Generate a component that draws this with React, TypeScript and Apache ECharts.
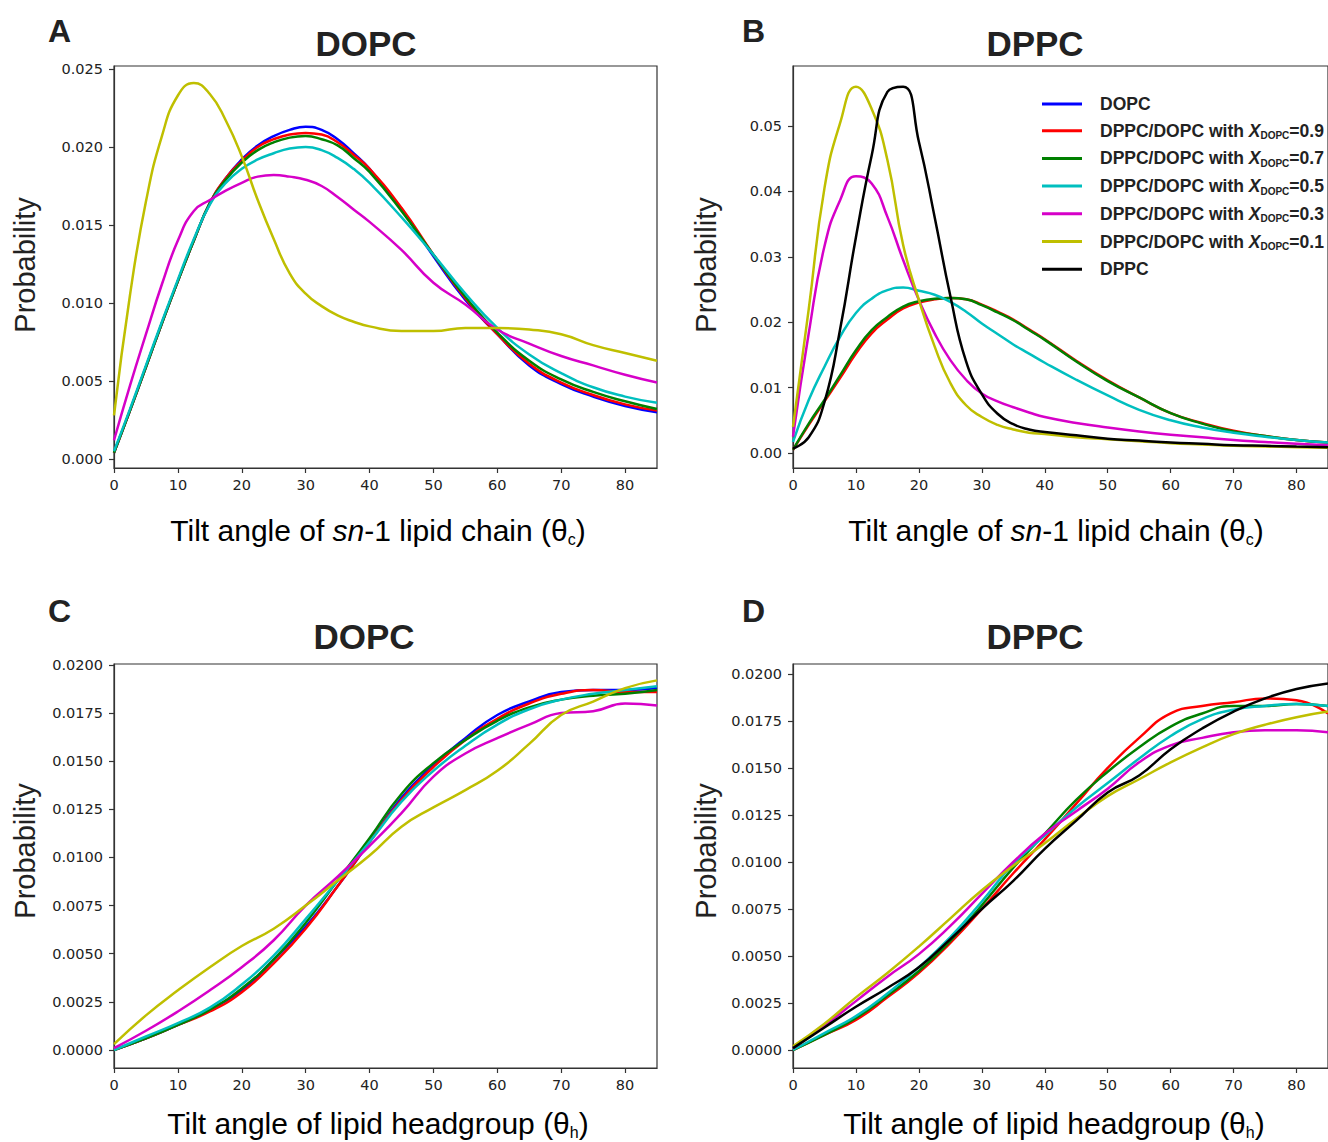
import React, { useEffect, useRef } from "react";
import * as echarts from "echarts";

// ---------- data ----------
const X_CHAIN = [0, 2.5, 5, 7.5, 10, 12.5, 15, 17.5, 20, 22.5, 25, 27.5, 30, 32.5, 35, 37.5, 40, 45, 50, 55, 60, 65, 70, 75, 80, 85];
const X_HEAD = [0, 5, 10, 15, 20, 25, 30, 35, 40, 45, 50, 55, 60, 65, 70, 75, 80, 85];

const SERIES_NAMES = [
  "DOPC",
  "DPPC/DOPC with X_DOPC=0.9",
  "DPPC/DOPC with X_DOPC=0.7",
  "DPPC/DOPC with X_DOPC=0.5",
  "DPPC/DOPC with X_DOPC=0.3",
  "DPPC/DOPC with X_DOPC=0.1",
  "DPPC",
];
const SERIES_COLORS = ["#0000ff", "#ff0000", "#008000", "#00bfbf", "#d600c8", "#bfbf00", "#000000"];

// Panel A: DOPC, sn-1 chain tilt
const A_DOPC = [0.0004, 0.0031, 0.0059, 0.0087, 0.0114, 0.0140, 0.0164, 0.0180, 0.0192, 0.0201, 0.0207, 0.0211, 0.0213, 0.0211, 0.0205, 0.0196, 0.0186, 0.0160, 0.0130, 0.0102, 0.0080, 0.0060, 0.0048, 0.0040, 0.0034, 0.0030];
const A_X09 = [0.0004, 0.0031, 0.0059, 0.0087, 0.0114, 0.0140, 0.0164, 0.0180, 0.0191, 0.0200, 0.0205, 0.0208, 0.0209, 0.0208, 0.0203, 0.0195, 0.0186, 0.0161, 0.0131, 0.0103, 0.0080, 0.0061, 0.0049, 0.0041, 0.0035, 0.0031];
const A_X07 = [0.0004, 0.0031, 0.0059, 0.0087, 0.0114, 0.0140, 0.0164, 0.0179, 0.0190, 0.0198, 0.0203, 0.0206, 0.0207, 0.0205, 0.0201, 0.0193, 0.0184, 0.0159, 0.0131, 0.0104, 0.0081, 0.0063, 0.0051, 0.0043, 0.0037, 0.0032];
const A_X05 = [0.0005, 0.0032, 0.0060, 0.0088, 0.0115, 0.0141, 0.0163, 0.0177, 0.0186, 0.0192, 0.0196, 0.0199, 0.0200, 0.0198, 0.0193, 0.0186, 0.0177, 0.0155, 0.0131, 0.0106, 0.0084, 0.0067, 0.0055, 0.0046, 0.0040, 0.0036];
const A_X03 = [0.0012, 0.0047, 0.0080, 0.0112, 0.0140, 0.0159, 0.0166, 0.0172, 0.0177, 0.0181, 0.0182, 0.0181, 0.0179, 0.0175, 0.0168, 0.0160, 0.0152, 0.0134, 0.0113, 0.0099, 0.0083, 0.0074, 0.0066, 0.0060, 0.0054, 0.0049];
const A_X01 = [0.0028, 0.0105, 0.0165, 0.0207, 0.0233, 0.0241, 0.0234, 0.0217, 0.0194, 0.0166, 0.0141, 0.0119, 0.0106, 0.0098, 0.0092, 0.0088, 0.0085, 0.0082, 0.0082, 0.0084, 0.0084, 0.0083, 0.0080, 0.0073, 0.0068, 0.0063];

// Panel B: DPPC, sn-1 chain tilt
const B_X09 = [0.0005, 0.0043, 0.0079, 0.0115, 0.0152, 0.0183, 0.0204, 0.0221, 0.0230, 0.0235, 0.0237, 0.0235, 0.0227, 0.0216, 0.0204, 0.0189, 0.0174, 0.0141, 0.0111, 0.0085, 0.0061, 0.0046, 0.0034, 0.0026, 0.0020, 0.0016];
const B_X07 = [0.0005, 0.0045, 0.0081, 0.0119, 0.0157, 0.0188, 0.0208, 0.0224, 0.0232, 0.0236, 0.0237, 0.0235, 0.0226, 0.0215, 0.0203, 0.0188, 0.0173, 0.0140, 0.0110, 0.0085, 0.0061, 0.0045, 0.0033, 0.0026, 0.0020, 0.0016];
const B_X05 = [0.0017, 0.0081, 0.0132, 0.0178, 0.0214, 0.0236, 0.0249, 0.0253, 0.0248, 0.0242, 0.0231, 0.0216, 0.0198, 0.0182, 0.0166, 0.0152, 0.0138, 0.0112, 0.0088, 0.0066, 0.0050, 0.0039, 0.0031, 0.0025, 0.0020, 0.0016];
const B_X03 = [0.0025, 0.0183, 0.0316, 0.0387, 0.0423, 0.0412, 0.0361, 0.0295, 0.0234, 0.0183, 0.0142, 0.0112, 0.0091, 0.0079, 0.0070, 0.0062, 0.0055, 0.0046, 0.0039, 0.0033, 0.0028, 0.0024, 0.0020, 0.0017, 0.0014, 0.0012];
const B_X01 = [0.0040, 0.0220, 0.0405, 0.0505, 0.0560, 0.0526, 0.0448, 0.0318, 0.0234, 0.0163, 0.0107, 0.0073, 0.0055, 0.0043, 0.0036, 0.0031, 0.0029, 0.0024, 0.0021, 0.0018, 0.0015, 0.0013, 0.0011, 0.0010, 0.0009, 0.0008];
const B_DPPC = [0.0007, 0.0024, 0.0078, 0.0190, 0.0330, 0.0455, 0.0552, 0.0560, 0.0476, 0.0361, 0.0240, 0.0140, 0.0090, 0.0060, 0.0044, 0.0036, 0.0032, 0.0027, 0.0022, 0.0019, 0.0016, 0.0014, 0.0012, 0.0011, 0.0010, 0.0009];

// Panel C: DOPC, headgroup tilt
const C_DOPC = [0.0000, 0.0006, 0.0013, 0.0021, 0.0031, 0.0047, 0.0064, 0.0085, 0.0108, 0.0131, 0.0148, 0.0162, 0.0174, 0.0181, 0.0186, 0.0187, 0.0187, 0.0188];
const C_X09 = [0.0000, 0.0006, 0.0013, 0.0020, 0.0030, 0.0045, 0.0063, 0.0085, 0.0108, 0.0130, 0.0147, 0.0161, 0.0172, 0.0180, 0.0185, 0.0187, 0.0186, 0.0186];
const C_X07 = [0.0000, 0.0006, 0.0013, 0.0021, 0.0032, 0.0047, 0.0066, 0.0088, 0.0110, 0.0133, 0.0149, 0.0161, 0.0171, 0.0178, 0.0182, 0.0184, 0.0185, 0.0187];
const C_X05 = [0.0000, 0.0007, 0.0014, 0.0022, 0.0034, 0.0049, 0.0068, 0.0088, 0.0108, 0.0129, 0.0145, 0.0158, 0.0169, 0.0177, 0.0182, 0.0185, 0.0187, 0.0189];
const C_X03 = [0.0001, 0.0010, 0.0020, 0.0031, 0.0043, 0.0057, 0.0075, 0.0090, 0.0106, 0.0123, 0.0142, 0.0154, 0.0162, 0.0169, 0.0175, 0.0176, 0.0180, 0.0179];
const C_X01 = [0.0003, 0.0018, 0.0031, 0.0043, 0.0054, 0.0063, 0.0075, 0.0088, 0.0101, 0.0116, 0.0126, 0.0135, 0.0145, 0.0159, 0.0174, 0.0181, 0.0188, 0.0192];

// Panel D: DPPC, headgroup tilt
const D_X09 = [0.0000, 0.0008, 0.0016, 0.0028, 0.0041, 0.0057, 0.0075, 0.0094, 0.0112, 0.0131, 0.0150, 0.0166, 0.0179, 0.0183, 0.0185, 0.0187, 0.0186, 0.0179];
const D_X07 = [0.0000, 0.0008, 0.0017, 0.0029, 0.0042, 0.0058, 0.0077, 0.0097, 0.0115, 0.0133, 0.0148, 0.0161, 0.0172, 0.0179, 0.0183, 0.0183, 0.0184, 0.0183];
const D_X05 = [0.0000, 0.0009, 0.0018, 0.0030, 0.0044, 0.0060, 0.0079, 0.0099, 0.0114, 0.0129, 0.0142, 0.0155, 0.0167, 0.0176, 0.0181, 0.0183, 0.0184, 0.0183];
const D_X03 = [0.0001, 0.0013, 0.0026, 0.0039, 0.0051, 0.0066, 0.0083, 0.0100, 0.0115, 0.0127, 0.0139, 0.0153, 0.0162, 0.0166, 0.0169, 0.0170, 0.0170, 0.0169];
const D_X01 = [0.0002, 0.0014, 0.0028, 0.0041, 0.0055, 0.0070, 0.0085, 0.0098, 0.0110, 0.0123, 0.0135, 0.0144, 0.0153, 0.0161, 0.0168, 0.0173, 0.0177, 0.0180];
const D_DPPC = [0.0001, 0.0012, 0.0023, 0.0033, 0.0044, 0.0059, 0.0075, 0.0090, 0.0107, 0.0122, 0.0137, 0.0146, 0.0160, 0.0171, 0.0180, 0.0187, 0.0192, 0.0195];

// tick labels
const X_TICKS = [0, 10, 20, 30, 40, 50, 60, 70, 80];
const A_Y_TICKS = [0, 0.005, 0.01, 0.015, 0.02, 0.025];
const B_Y_TICKS = [0, 0.01, 0.02, 0.03, 0.04, 0.05];
const CD_Y_TICKS = [0, 0.0025, 0.005, 0.0075, 0.01, 0.0125, 0.015, 0.0175, 0.02];

const PANEL_LETTERS = ["A", "B", "C", "D"];
const PANEL_TITLES = ["DOPC", "DPPC", "DOPC", "DPPC"];

// ---------- styling ----------
const SANS = "'Liberation Sans', Arial, sans-serif";
const TICK_FONT = "'DejaVu Sans', sans-serif";
const AXIS_COLOR = "#333";
const TEXT_COLOR = "#222";

const GRIDS = [
  { left: 114, top: 66, width: 543, height: 402 },
  { left: 793, top: 66, width: 545, height: 402 },
  { left: 114, top: 664, width: 543, height: 404 },
  { left: 793, top: 664, width: 545, height: 404 },
];
const Y_RANGES = [
  [-0.000577, 0.025192],
  [-0.00229, 0.05917],
  [-0.000935, 0.02005],
  [-0.000957, 0.02053],
];
const Y_TICKS = [A_Y_TICKS, B_Y_TICKS, CD_Y_TICKS, CD_Y_TICKS];
const Y_DECIMALS = [3, 2, 4, 4];

function zip(xs: number[], ys: number[]) {
  return xs.map((x, i) => [x, ys[i]]);
}

export default function App() {
  const ref = useRef<HTMLDivElement>(null);
  useEffect(() => {
    if (!ref.current) return;
    const chart = echarts.init(ref.current, null, { renderer: "svg" });

    const panels: { x: number[]; data: (number[] | null)[] }[] = [
      { x: X_CHAIN, data: [A_DOPC, A_X09, A_X07, A_X05, A_X03, A_X01, null] },
      { x: X_CHAIN, data: [null, B_X09, B_X07, B_X05, B_X03, B_X01, B_DPPC] },
      { x: X_HEAD, data: [C_DOPC, C_X09, C_X07, C_X05, C_X03, C_X01, null] },
      { x: X_HEAD, data: [null, D_X09, D_X07, D_X05, D_X03, D_X01, D_DPPC] },
    ];

    const series: any[] = [];
    panels.forEach((p, pi) => {
      p.data.forEach((ys, si) => {
        if (!ys) return;
        series.push({
          type: "line",
          name: SERIES_NAMES[si],
          xAxisIndex: pi,
          yAxisIndex: pi,
          data: zip(p.x, ys),
          smooth: 0.5,
          showSymbol: false,
          symbol: "none",
          color: SERIES_COLORS[si],
          lineStyle: { width: 2.5, color: SERIES_COLORS[si] },
          emphasis: { disabled: true },
          z: 2 + si,
        });
      });
    });

    const grid = GRIDS.map((g) => ({
      ...g,
      show: true,
      borderColor: AXIS_COLOR,
      borderWidth: 1.2,
      backgroundColor: "transparent",
      containLabel: false,
    }));

    const xAxis = GRIDS.map((_, i) => ({
      type: "value",
      gridIndex: i,
      min: 0,
      max: 85,
      axisLine: { show: true, onZero: false, lineStyle: { color: AXIS_COLOR, width: 1.2 } },
      axisTick: { show: true, customValues: X_TICKS, length: 5, lineStyle: { color: AXIS_COLOR, width: 1.2 } },
      axisLabel: {
        customValues: X_TICKS,
        color: TEXT_COLOR,
        fontFamily: TICK_FONT,
        fontSize: 14.5,
        margin: 9,
        formatter: (v: number) => String(Math.round(v)),
      },
      splitLine: { show: false },
    }));

    const yAxis = GRIDS.map((_, i) => ({
      type: "value",
      gridIndex: i,
      min: Y_RANGES[i][0],
      max: Y_RANGES[i][1],
      axisLine: { show: true, onZero: false, lineStyle: { color: AXIS_COLOR, width: 1.2 } },
      axisTick: { show: true, customValues: Y_TICKS[i], length: 5, lineStyle: { color: AXIS_COLOR, width: 1.2 } },
      axisLabel: {
        customValues: Y_TICKS[i],
        color: TEXT_COLOR,
        fontFamily: TICK_FONT,
        fontSize: 14.5,
        margin: 11,
        formatter: (v: number) => v.toFixed(Y_DECIMALS[i]),
      },
      splitLine: { show: false },
    }));

    const letterPos = [
      [48, 31],
      [742, 31],
      [48, 611],
      [742, 611],
    ];
    const titlePos = [
      [366, 43],
      [1035, 43],
      [364, 636],
      [1035, 636],
    ];
    const yTitlePos = [
      [25, 265],
      [706, 265],
      [25, 851],
      [706, 851],
    ];
    const xTitlePos = [
      [378, 530],
      [1056, 530],
      [378, 1123],
      [1054, 1123],
    ];

    const axisTitleRich = {
      n: { fontFamily: SANS, fontSize: 30, color: TEXT_COLOR, lineHeight: 34 },
      i: { fontFamily: SANS, fontSize: 30, fontStyle: "italic", color: TEXT_COLOR, lineHeight: 34 },
      s: { fontFamily: SANS, fontSize: 16, color: TEXT_COLOR, verticalAlign: "top", padding: [19, 0, 0, 0] },
    };

    const graphic: any[] = [];
    PANEL_LETTERS.forEach((t, i) => {
      graphic.push({
        type: "text",
        x: letterPos[i][0],
        y: letterPos[i][1],
        style: { text: t, fontFamily: SANS, fontWeight: "bold", fontSize: 32, fill: TEXT_COLOR, textAlign: "left", textVerticalAlign: "middle" },
      });
      graphic.push({
        type: "text",
        x: titlePos[i][0],
        y: titlePos[i][1],
        style: { text: PANEL_TITLES[i], fontFamily: SANS, fontWeight: "bold", fontSize: 35, fill: TEXT_COLOR, textAlign: "center", textVerticalAlign: "middle" },
      });
      graphic.push({
        type: "text",
        x: yTitlePos[i][0],
        y: yTitlePos[i][1],
        rotation: Math.PI / 2,
        style: { text: "Probability", fontFamily: SANS, fontSize: 29, fill: TEXT_COLOR, textAlign: "center", textVerticalAlign: "middle" },
      });
      const xt =
        i < 2
          ? "{n|Tilt angle of }{i|sn}{n|-1 lipid chain (θ}{s|c}{n|)}"
          : "{n|Tilt angle of lipid headgroup (θ}{s|h}{n|)}";
      graphic.push({
        type: "text",
        x: xTitlePos[i][0],
        y: xTitlePos[i][1],
        style: { text: xt, rich: axisTitleRich, textAlign: "center", textVerticalAlign: "middle" },
      });
    });

    chart.setOption({
      animation: false,
      backgroundColor: "#ffffff",
      grid,
      xAxis,
      yAxis,
      series,
      legend: {
        data: SERIES_NAMES,
        orient: "vertical",
        left: 1042,
        top: 95,
        padding: 0,
        itemWidth: 40,
        itemHeight: 3,
        itemGap: 8.7,
        icon: "rect",
        selectedMode: false,
        textStyle: {
          fontFamily: SANS,
          fontSize: 17.5,
          fontWeight: "bold",
          color: TEXT_COLOR,
          padding: [0, 0, 0, 13],
          rich: {
            n: { fontFamily: SANS, fontSize: 17.5, fontWeight: "bold", color: TEXT_COLOR, lineHeight: 20 },
            x: { fontFamily: SANS, fontSize: 17.5, fontWeight: "bold", fontStyle: "italic", color: TEXT_COLOR, lineHeight: 20 },
            s: { fontFamily: SANS, fontSize: 10, fontWeight: "bold", color: TEXT_COLOR, verticalAlign: "bottom", lineHeight: 10 },
          },
        },
        formatter: (name: string) => {
          if (name.indexOf("X_DOPC=") >= 0) {
            const v = name.split("=")[1];
            return `{n|DPPC/DOPC with }{x|X}{s|DOPC}{n|=${v}}`;
          }
          return `{n|${name}}`;
        },
      },
      graphic,
    });

    return () => chart.dispose();
  }, []);

  return (
    <div
      ref={ref}
      style={{ position: "absolute", left: 0, top: 0, width: 1328, height: 1142, background: "#fff" }}
    />
  );
}
